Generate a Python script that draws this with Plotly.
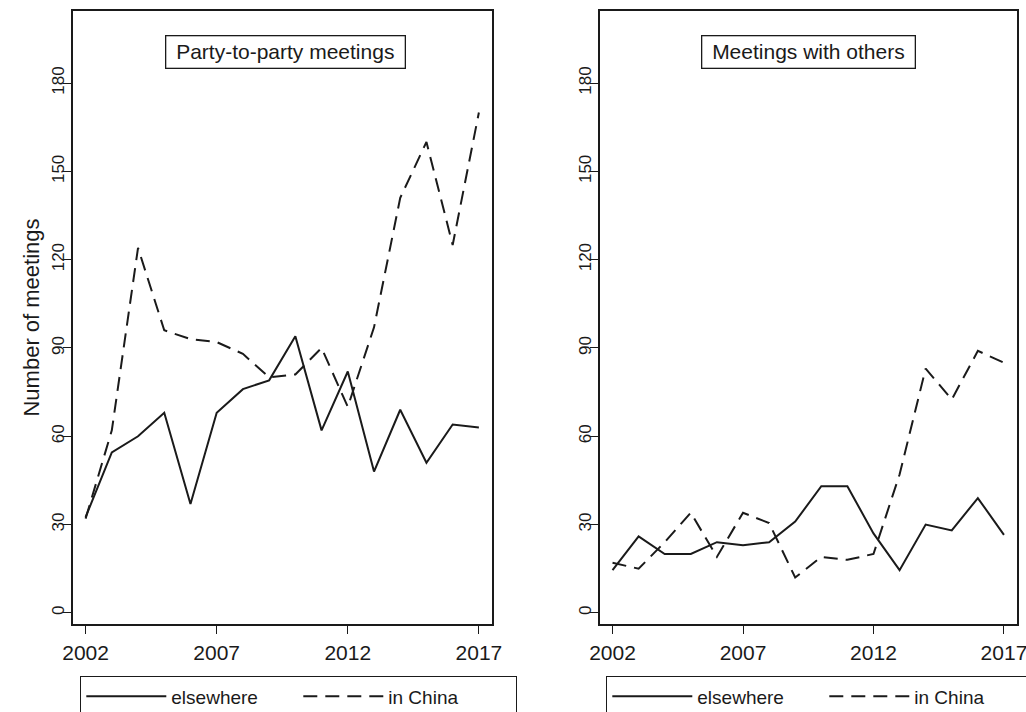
import plotly.graph_objects as go

years = list(range(2002, 2018))

party_elsewhere = [32.5, 54.5, 60, 68, 37, 68, 76, 79, 94, 62, 82, 48, 69, 51, 64, 63]
party_china = [32, 62, 124, 96, 93, 92, 88, 80, 81, 90, 70, 97, 141, 160, 125, 170]

others_elsewhere = [14.5, 26, 20, 20, 24, 23, 24, 31, 43, 43, 27, 14.5, 30, 28, 39, 26.5]
others_china = [17, 15, 24, 34, 19, 34, 30.5, 12, 19, 18, 20, 47, 83, 72.5, 89, 85]

panel_titles = ["Party-to-party meetings", "Meetings with others"]
series_names = ["elsewhere", "in China"]
x_ticks = [2002, 2007, 2012, 2017]
y_ticks = [0, 30, 60, 90, 120, 150, 180]

W, H = 1026, 712
ink = "#1a1a1a"
narrow = "Liberation Sans Narrow, Arial Narrow, Liberation Sans, Arial, sans-serif"
regular = "Liberation Sans, Arial, Helvetica, sans-serif"

fig = go.Figure()

panels = [(party_elsewhere, party_china, "x", "y", "legend"),
          (others_elsewhere, others_china, "x2", "y2", "legend2")]
for els, chi, xa, ya, lg in panels:
    fig.add_trace(go.Scatter(x=years, y=els, mode="lines", name=series_names[0],
                             line=dict(color=ink, width=2), xaxis=xa, yaxis=ya, legend=lg))
    fig.add_trace(go.Scatter(x=years, y=chi, mode="lines", name=series_names[1],
                             line=dict(color=ink, width=2, dash="14px,8px"), xaxis=xa, yaxis=ya, legend=lg))

def px_x(p):
    return p / W

def px_y(p):
    return 1 - p / H

line_common = dict(showline=True, mirror=True, linecolor=ink, linewidth=2,
                   showgrid=False, zeroline=False, ticks="outside", ticklen=8,
                   tickcolor=ink, tickwidth=1.3, automargin=False)
xaxis_common = dict(tickfont=dict(family=narrow, size=21, color=ink), ticklabelstandoff=1,
                    ticklabeloverflow="allow",
                    range=[2001.52, 2017.5], tickvals=x_ticks, **line_common)
yaxis_common = dict(tickfont=dict(family=narrow, size=17, color=ink), ticklabelstandoff=-8,
                    range=[-3.8, 204.5], tickvals=y_ticks, tickangle=-90,
                    domain=[px_y(624), px_y(11)], **line_common)

legend_common = dict(orientation="h", xanchor="left", yanchor="top",
                     bordercolor=ink, borderwidth=1.3, bgcolor="white",
                     itemwidth=80, entrywidth=122, entrywidthmode="pixels",
                     font=dict(family=regular, size=19, color=ink))

fig.update_layout(
    width=W, height=H,
    margin=dict(l=0, r=0, t=0, b=0, autoexpand=False),
    paper_bgcolor="white", plot_bgcolor="white",
    xaxis=dict(domain=[px_x(73), px_x(492)], anchor="y", **xaxis_common),
    yaxis=dict(anchor="x",
               title=dict(text="Number of meetings", font=dict(family=regular, size=22, color=ink), standoff=4),
               **yaxis_common),
    xaxis2=dict(domain=[px_x(600), px_x(1017)], anchor="y2", **xaxis_common),
    yaxis2=dict(anchor="x2", **yaxis_common),
    legend=dict(x=px_x(80), y=px_y(676), **legend_common),
    legend2=dict(x=px_x(606), y=px_y(676), **legend_common),
    showlegend=True,
)

for t, cx in zip(panel_titles, [285.5, 808.5]):
    fig.add_annotation(text="\u00a0" + t + "\u00a0", x=px_x(cx), y=px_y(52), xref="paper", yref="paper",
                       showarrow=False, xanchor="center", yanchor="middle",
                       font=dict(family=regular, size=21, color=ink),
                       bordercolor=ink, borderwidth=1.3, borderpad=4, bgcolor="white")

# remove the default page margin so the 1026x712 figure fills the window exactly
page_fix = "document.body.style.margin='0';document.body.style.overflow='hidden';"
fig.write_html("out.html", post_script=page_fix, config={"displayModeBar": False})
